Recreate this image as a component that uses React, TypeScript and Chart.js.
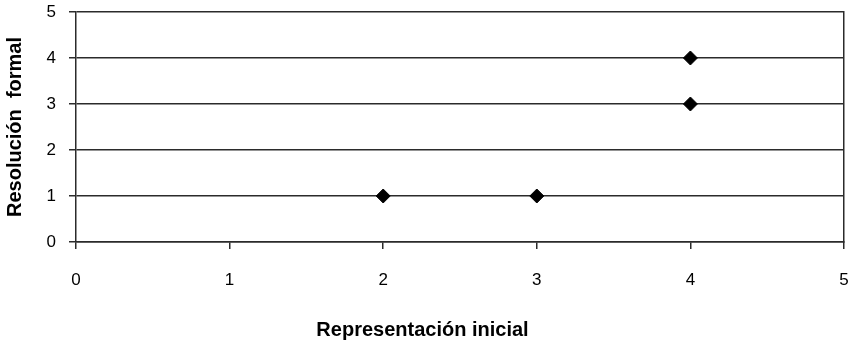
import { useEffect, useRef } from "react";
import { Chart, registerables } from "chart.js";

Chart.register(...registerables);

// Scatter values: horizontal = initial representation, vertical = formal resolution
const xValues = [2, 3, 4, 4];
const yValues = [1, 1, 3, 4];
const axisMin = 0;
const axisMax = 5;
const xTitle = "Representación inicial";
const yTitle = "Resolución  formal";

const FONT = "'Liberation Sans', Arial, Helvetica, sans-serif";
const LINE = "#2b2b2b";

// Drop the automatic label overhang so the plot box sits exactly inside the layout padding
const noOverhang = (scale: any) => {
  scale.paddingTop = 0;
  scale.paddingBottom = 0;
  scale.paddingLeft = 0;
  scale.paddingRight = 0;
};

export default function App() {
  const canvasRef = useRef<HTMLCanvasElement | null>(null);

  useEffect(() => {
    document.body.style.margin = "0";
    const canvas = canvasRef.current;
    if (!canvas) return;

    const points = xValues.map((x, i) => ({ x, y: yValues[i] }));

    const chart = new Chart(canvas, {
      type: "scatter",
      data: {
        datasets: [
          {
            data: points,
            pointStyle: "rectRot",
            pointRadius: 7,
            pointHoverRadius: 7,
            backgroundColor: "#000",
            borderColor: "#000",
            borderWidth: 1,
          },
        ],
      },
      options: {
        responsive: false,
        animation: false,
        events: [],
        layout: { padding: { top: 12, right: 7, bottom: 0, left: 0 } },
        plugins: {
          legend: { display: false },
          tooltip: { enabled: false },
          title: {
            display: true,
            position: "bottom",
            text: xTitle,
            color: "#000",
            font: { family: FONT, size: 20, weight: "bold", lineHeight: 1.2 },
            padding: { top: 0, bottom: 1 },
          },
        },
        scales: {
          x: {
            type: "linear",
            min: axisMin,
            max: axisMax,
            ticks: {
              stepSize: 1,
              color: "#000",
              font: { family: FONT, size: 17 },
              padding: 21,
            },
            grid: {
              drawOnChartArea: false,
              drawTicks: true,
              tickLength: 7,
              color: LINE,
              lineWidth: 1.5,
            },
            border: { display: true, color: LINE, width: 1.5 },
            afterFit: (scale: any) => {
              scale.height = 76;
              noOverhang(scale);
            },
          },
          y: {
            type: "linear",
            min: axisMin,
            max: axisMax,
            ticks: {
              stepSize: 1,
              color: "#000",
              font: { family: FONT, size: 17 },
              padding: 13,
            },
            grid: {
              drawOnChartArea: true,
              drawTicks: true,
              tickLength: 7,
              color: LINE,
              lineWidth: 1.5,
            },
            border: { display: true, color: LINE, width: 1.5 },
            title: {
              display: true,
              text: yTitle,
              color: "#000",
              font: { family: FONT, size: 20, weight: "bold", lineHeight: 1.2 },
              padding: { top: 3, bottom: 0 },
            },
            afterFit: (scale: any) => {
              scale.width = 76;
              noOverhang(scale);
            },
          },
          yRight: {
            type: "linear",
            position: "right",
            min: axisMin,
            max: axisMax,
            ticks: { display: false },
            grid: { display: false },
            border: { display: true, color: LINE, width: 1.5 },
            afterFit: (scale: any) => {
              scale.width = 0;
              noOverhang(scale);
            },
          },
        },
      },
    });

    return () => chart.destroy();
  }, []);

  return (
    <div style={{ width: 852, height: 343 }}>
      <canvas ref={canvasRef} width={852} height={343} />
    </div>
  );
}
